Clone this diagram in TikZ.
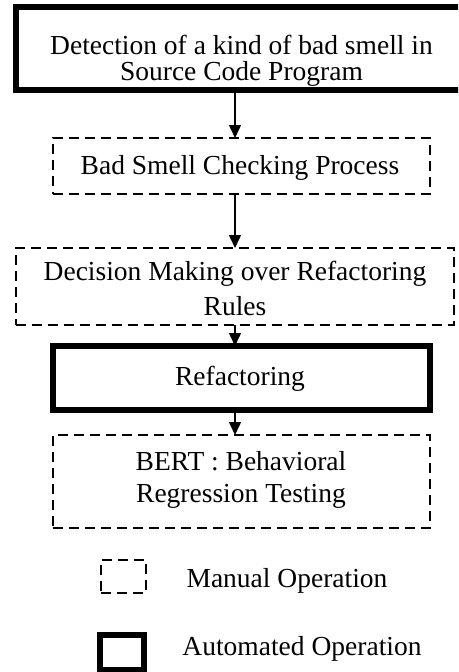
\documentclass[tikz,border=0pt]{standalone}
\usepackage{fontspec}
\setmainfont{Liberation Serif}
\usetikzlibrary{arrows.meta}
\begin{document}
\begin{tikzpicture}[x=1pt,y=-1pt,
  boxbase/.style={draw=black,inner sep=0pt,outer sep=0pt,anchor=center},
  autobox/.style={boxbase,line width=6pt},
  manbox/.style={boxbase,line width=2pt,dash pattern=on 10pt off 6pt},
  txt/.style={font=\fontsize{27.5}{31.6}\selectfont,anchor=base,inner sep=0pt},
  arr/.style={line width=1.5pt,-{Triangle[width=12pt,length=13pt]}}]
\useasboundingbox (0,0) rectangle (458,672);
\begin{scope}
\clip (0,0) rectangle (458,672);
% boxes
\node[autobox,minimum width=454pt,minimum height=83pt] (b1) at (243,48.5) {};
\node[manbox,minimum width=377pt,minimum height=56pt] (b2) at (241.5,166) {};
\node[manbox,minimum width=438pt,minimum height=77pt] (b3) at (234.5,286.5) {};
\node[autobox,minimum width=377pt,minimum height=64pt] (b4) at (241.5,378) {};
\node[manbox,minimum width=377pt,minimum height=93pt] (b5) at (241.5,481.5) {};
% texts
\node[txt] (t1a) at (241.5,54) {Detection of a kind of bad smell in};
\node[txt] (t1b) at (241.5,80) {Source Code Program};
\node[txt] (t2) at (240,174) {Bad Smell Checking Process};
\node[txt] (t3a) at (235,280) {Decision Making over Refactoring};
\node[txt] (t3b) at (235,315) {Rules};
\node[txt] (t4) at (240,385) {Refactoring};
\node[txt] (t5a) at (241,470) {BERT : Behavioral};
\node[txt] (t5b) at (241,502) {Regression Testing};
% arrows
\coordinate (ax) at (235,0);
\draw[arr] (b1.south -| ax) -- (b2.north -| ax);
\draw[arr] (b2.south -| ax) -- (b3.north -| ax);
\draw[arr] (b3.south -| ax) -- (b4.north -| ax);
\draw[arr] (b4.south -| ax) -- (b5.north -| ax);
% legend
\node[manbox,minimum width=45pt,minimum height=33pt] (lm) at (123.5,576.5) {};
\node[txt] (lmt) at (287,587) {Manual Operation};
\node[autobox,minimum width=43.5pt,minimum height=35pt] (la) at (121.8,652.5) {};
\node[txt] (lat) at (302,655) {Automated Operation};
\end{scope}
\end{tikzpicture}
\end{document}
